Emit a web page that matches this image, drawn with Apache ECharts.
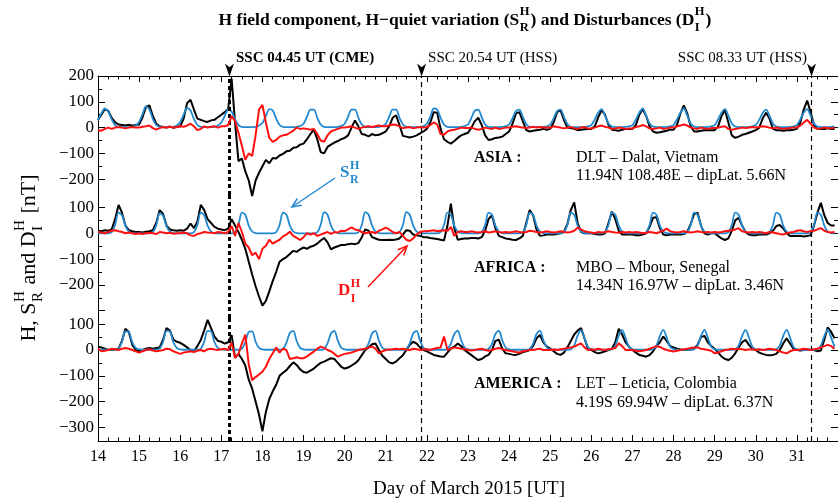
<!DOCTYPE html>
<html><head><meta charset="utf-8">
<script src="https://cdn.jsdelivr.net/npm/echarts@6/dist/echarts.min.js"></script>
<style>html,body{margin:0;padding:0;background:#fff}#c{width:838px;height:501px}</style>
</head><body><div id="c"></div>
<script>
// ---------------- DATA (2-hour samples, 12 per day, starting at day 14.0 UT) ----------------
const dayStart = 14;
const samplesPerDay = 12;

// ASIA (DLT) H component
const asiaH = [
  [30, 50, 72, 65, 38, 20, 12, 10, 8, 11, 7, 10],
  [12, 40, 80, 86, 45, 15, 5, 2, 0, 4, -1, 2],
  [5, 35, 95, 108, 70, 35, 30, 25, 22, 28, 30, 40],
  [50, 60, 72, 190, 20, -130, -120, -170, -205, -265, -205, -175],
  [-150, -125, -138, -118, -120, -108, -102, -92, -90, -78, -76, -66],
  [-62, -45, -25, -8, -45, -95, -100, -75, -66, -58, -52, -45],
  [-40, -30, 0, 28, 5, -25, -28, -34, -25, -30, -28, -22],
  [-15, 5, 38, 48, 10, -32, -35, -38, -35, -30, -22, -15],
  [-5, 20, 60, 58, -5, -45, -55, -62, -52, -40, -30, -25],
  [-20, 0, 25, 38, 10, -30, -48, -45, -40, -38, -35, -25],
  [-15, 15, 55, 60, 25, -10, -15, -12, -10, -8, -5, -8],
  [-5, 20, 60, 68, 30, 0, -2, -5, -10, -8, -6, -5],
  [-5, 5, 40, 68, 50, 10, -8, -10, -12, -8, -5, -5],
  [-5, 10, 50, 72, 45, 5, -15, -20, -18, -15, -12, -8],
  [-8, 10, 55, 86, 55, 5, -15, -15, -12, -10, -10, -10],
  [-10, 5, 45, 68, 20, -30, -40, -35, -28, -25, -20, -15],
  [-10, 0, 35, 58, 35, -5, -10, -10, -12, -10, -10, -8],
  [-5, 20, 70, 105, 60, 10, -5, -5, -5, -3, -5, -5]
];
// ASIA quiet variation Sq
const asiaSq = [
  [28, 55, 74, 62, 32, 10, 3, 2, 2, 2, 3, 8],
  [22, 52, 82, 70, 34, 10, 3, 2, 2, 2, 3, 8],
  [22, 50, 76, 66, 33, 10, 3, 2, 2, 2, 3, 8],
  [20, 45, 70, 62, 32, 10, 3, 2, 2, 2, 3, 8],
  [18, 45, 72, 66, 35, 10, 3, 2, 2, 2, 3, 6],
  [15, 42, 70, 70, 38, 12, 3, 2, 2, 2, 3, 6],
  [15, 42, 70, 70, 38, 12, 3, 2, 2, 2, 3, 6],
  [15, 42, 70, 70, 38, 12, 3, 2, 2, 2, 3, 6],
  [15, 42, 74, 70, 38, 12, 3, 2, 2, 2, 3, 6],
  [12, 38, 66, 70, 40, 12, 3, 2, 2, 2, 3, 6],
  [12, 36, 64, 70, 42, 14, 3, 2, 2, 2, 3, 5],
  [12, 36, 64, 70, 42, 14, 3, 2, 2, 2, 3, 5],
  [10, 32, 58, 72, 46, 16, 4, 2, 2, 2, 3, 5],
  [10, 32, 58, 74, 46, 16, 4, 2, 2, 2, 3, 5],
  [10, 32, 58, 74, 46, 16, 4, 2, 2, 2, 3, 5],
  [10, 32, 58, 72, 46, 16, 4, 2, 2, 2, 3, 5],
  [10, 30, 56, 70, 46, 16, 4, 2, 2, 2, 3, 5],
  [10, 32, 58, 72, 46, 16, 4, 2, 2, 2, 3, 5]
];
// ASIA disturbance D
const asiaD = [
  [-10, -12, -5, 0, -5, 0, 2, 0, -3, 0, 2, 0],
  [0, 3, 5, 8, -2, -8, -2, 2, 0, 3, 0, 2],
  [5, 3, 8, 15, 5, -10, -5, 5, 0, 3, 5, 0],
  [5, 5, 10, 45, 25, -20, -70, -125, -100, -110, -30, 70],
  [88, 20, -40, -55, -48, -35, -30, -28, -20, -12, 0, -5],
  [-3, -5, -8, -5, -25, -50, -55, -30, -15, -10, -5, 0],
  [0, 2, 5, 0, -5, 0, 3, 5, 2, 5, 8, 5],
  [5, 8, 12, 10, 5, -2, 0, 2, -3, 0, 2, 0],
  [2, 10, 20, 12, -25, -28, -15, -10, -8, -5, 0, -2],
  [-2, 0, -5, -8, -5, 0, -3, -5, 0, -5, -3, 0],
  [0, 3, 5, 2, 0, -2, 0, 3, 0, 2, 0, 0],
  [0, 5, 2, 0, -3, 0, 2, -2, -5, 0, 2, -3],
  [-3, 0, 5, 8, 3, 0, -5, -3, 0, -2, -5, -3],
  [-3, 2, 5, 10, 5, -3, -5, -3, 0, -5, -3, 0],
  [0, 5, 8, 12, 8, 0, -3, -5, 0, -3, -5, -2],
  [-2, 0, 3, 5, -5, -8, -5, -3, 0, -2, 0, 2],
  [0, 2, 5, 3, 0, -3, 0, -2, -5, -3, -2, 0],
  [0, 8, 20, 30, 15, 0, -5, -3, 0, -2, -3, 0]
];

// AFRICA (MBO) H component
const africaH = [
  [10, 8, 12, 10, 15, 55, 110, 80, 30, 12, 8, 5],
  [5, 3, 6, 8, 12, 40, 90, 75, 30, 15, 12, 10],
  [12, 10, 18, 38, 20, 45, 110, 90, 55, 40, 25, 18],
  [15, 12, 18, 55, 30, 5, -25, -60, -110, -160, -205, -245],
  [-280, -262, -225, -185, -150, -110, -100, -92, -80, -68, -72, -62],
  [-55, -60, -52, -48, -40, -28, -18, -35, -62, -55, -50, -45],
  [-45, -42, -40, -42, -38, -15, 15, 10, -15, -20, -25, -26],
  [-26, -25, -26, -24, -20, -5, 12, 10, -5, -8, -10, -15],
  [-15, -18, -20, -22, -25, -28, 30, 115, 20, -25, -22, -20],
  [-20, -18, -18, -20, -15, 10, 55, 70, 20, -10, -15, -20],
  [-22, -25, -26, -20, -10, 40, 90, 70, 15, -10, -8, -5],
  [-5, -5, -3, 0, 5, 35, 90, 120, 40, 5, 0, 0],
  [0, -3, -5, -5, 0, 40, 84, 55, 10, -5, -5, -5],
  [-5, -8, -8, -5, 0, 25, 60, 62, 20, -5, -8, -5],
  [-5, -5, -5, -3, 5, 35, 75, 80, 30, 0, -5, 0],
  [0, -10, -20, -26, -20, 10, 50, 60, 30, 5, -5, -8],
  [-8, -5, -5, -5, 0, 10, 28, 32, 20, 0, -10, -10],
  [-10, -10, -12, -10, -8, 30, 80, 118, 70, 40, 30, 30]
];
const africaSq = [
  [0, 0, 0, 0, 4, 32, 80, 70, 30, 7, 1, 0],
  [0, 0, 0, 0, 4, 30, 78, 68, 28, 7, 1, 0],
  [0, 0, 0, 0, 4, 32, 80, 70, 30, 7, 1, 0],
  [0, 0, 0, 0, 4, 32, 80, 72, 30, 7, 1, 0],
  [0, 0, 0, 0, 4, 32, 80, 72, 30, 7, 1, 0],
  [0, 0, 0, 0, 4, 32, 82, 72, 30, 7, 1, 0],
  [0, 0, 0, 0, 4, 32, 82, 72, 30, 7, 1, 0],
  [0, 0, 0, 0, 4, 32, 82, 72, 30, 7, 1, 0],
  [0, 0, 0, 0, 4, 32, 80, 72, 30, 7, 1, 0],
  [0, 0, 0, 0, 4, 32, 80, 72, 30, 7, 1, 0],
  [0, 0, 0, 0, 4, 32, 80, 72, 30, 7, 1, 0],
  [0, 0, 0, 0, 4, 32, 80, 72, 30, 7, 1, 0],
  [0, 0, 0, 0, 4, 32, 80, 72, 30, 7, 1, 0],
  [0, 0, 0, 0, 4, 32, 80, 72, 30, 7, 1, 0],
  [0, 0, 0, 0, 4, 32, 80, 72, 30, 7, 1, 0],
  [0, 0, 0, 0, 4, 32, 80, 72, 30, 7, 1, 0],
  [0, 0, 0, 0, 4, 32, 80, 72, 30, 7, 1, 0],
  [0, 0, 0, 0, 4, 32, 80, 72, 30, 7, 1, 0]
];
const africaD = [
  [5, 3, 0, 5, 10, 12, 8, 5, 0, 3, 0, -3],
  [0, -3, 0, 2, 0, -3, 5, 3, 0, 2, -2, 0],
  [0, 3, 0, -8, -10, -3, 0, 5, 3, 2, 0, 5],
  [3, 0, 5, 28, -10, 40, 5, -40, -55, -85, -75, -100],
  [-60, -48, -25, -40, -32, -25, -12, -5, 6, -10, -18, -26],
  [-15, 0, -5, 0, -10, -5, 0, 5, -2, 5, 3, 10],
  [8, 15, 23, 15, 12, 5, 0, 3, 5, 0, 10, 15],
  [22, 15, 5, 0, 5, -10, -25, -30, -20, -5, 5, 8],
  [8, 10, 12, 8, 10, 12, 10, 25, -10, 5, 8, 5],
  [5, 8, 5, 3, 5, 8, 3, 5, 8, 5, 3, 5],
  [3, 5, 8, 5, 3, 5, 10, 8, 5, 3, 5, 8],
  [5, 3, 5, 8, 5, 3, 5, 10, 22, 15, 8, 5],
  [3, 0, 5, 3, 5, 8, 5, 3, 2, 5, 3, 5],
  [3, 5, 3, 0, 2, 5, 3, 0, 5, 10, 18, 8],
  [5, 3, 5, 8, 5, 3, 5, 8, 5, 3, 5, 3],
  [5, 3, 5, 8, 10, 12, 15, 20, 8, 5, 3, 5],
  [3, 5, 3, 0, 5, 3, 0, -3, -5, 0, 3, 5],
  [10, 12, 8, 5, 8, 10, 15, 20, 10, 5, 3, 5]
];

// AMERICA (LET) H component
const americaH = [
  [13, 10, 5, 0, 0, 2, 5, 35, 82, 70, 20, 0],
  [-5, 0, 5, 8, 5, 8, 10, 40, 85, 75, 40, 32],
  [28, 20, 10, 0, -6, 15, 39, 75, 117, 85, 52, 35],
  [32, 25, 30, 58, -30, -15, -35, -60, -115, -150, -200, -250],
  [-315, -240, -190, -160, -135, -100, -88, -78, -62, -48, -58, -75],
  [-85, -88, -80, -72, -60, -50, -45, -38, -32, -35, -50, -65],
  [-72, -68, -60, -52, -40, -20, 0, 10, 22, 25, 0, -22],
  [-35, -48, -52, -45, -32, -20, 0, 20, 32, 25, 10, 0],
  [-5, -12, -19, -22, -25, -26, -10, 5, 13, 25, 15, 0],
  [-10, -20, -30, -39, -35, -25, -19, 0, 35, 40, 5, -13],
  [-15, -18, -19, -15, -8, -5, 0, 15, 45, 58, 30, 13],
  [5, -5, -15, -19, -10, 10, 35, 60, 75, 85, 45, 5],
  [0, -8, -13, -10, -5, 0, 5, 30, 82, 60, 30, 13],
  [0, -10, -19, -22, -26, -20, -5, 15, 30, 52, 35, 15],
  [10, 5, 2, 0, 0, 2, 5, 20, 50, 55, 30, 15],
  [5, -10, -25, -35, -39, -30, -13, 10, 30, 39, 20, 5],
  [0, -10, -15, -19, -20, -19, -15, 0, 25, 45, 25, 5],
  [0, -2, 0, 2, 0, 0, -5, -2, 40, 88, 70, 45]
];
const americaSq = [
  [2, 1, 1, 1, 1, 1, 5, 32, 72, 70, 30, 8],
  [2, 1, 1, 1, 1, 1, 5, 32, 74, 72, 30, 8],
  [2, 1, 1, 1, 1, 1, 5, 32, 74, 72, 30, 8],
  [2, 1, 1, 1, 1, 1, 5, 30, 70, 72, 32, 8],
  [2, 1, 1, 1, 1, 1, 4, 28, 66, 74, 34, 8],
  [2, 1, 1, 1, 1, 1, 4, 26, 64, 74, 36, 9],
  [2, 1, 1, 1, 1, 1, 4, 26, 64, 74, 36, 9],
  [2, 1, 1, 1, 1, 1, 4, 26, 64, 74, 36, 9],
  [2, 1, 1, 1, 1, 1, 4, 24, 62, 75, 38, 10],
  [2, 1, 1, 1, 1, 1, 4, 24, 62, 75, 38, 10],
  [2, 1, 1, 1, 1, 1, 4, 24, 62, 75, 38, 10],
  [2, 1, 1, 1, 1, 1, 3, 18, 56, 77, 46, 12],
  [3, 1, 1, 1, 1, 1, 3, 18, 56, 77, 46, 12],
  [3, 1, 1, 1, 1, 1, 3, 17, 54, 78, 48, 12],
  [3, 1, 1, 1, 1, 1, 3, 17, 54, 78, 48, 12],
  [3, 1, 1, 1, 1, 1, 3, 17, 54, 78, 48, 12],
  [3, 1, 1, 1, 1, 1, 3, 17, 54, 78, 48, 12],
  [3, 1, 1, 1, 1, 1, 3, 17, 54, 79, 48, 12]
];
const americaD = [
  [5, -5, -3, 0, 5, 3, 0, 5, 8, 5, 0, -5],
  [-10, -5, 0, 3, -2, -5, -3, 0, 5, 3, -5, -10],
  [-15, -10, -8, -5, -8, -3, 0, -5, 3, 5, 2, 0],
  [3, 5, 0, 28, -30, -15, 25, 60, -55, -117, -105, -95],
  [-84, -65, -35, -13, 10, -10, 5, 0, -35, -32, -28, -32],
  [-32, -25, -15, -6, 5, 13, 8, 0, -5, -15, -26, -20],
  [-15, -13, -10, -5, 0, 3, 5, 10, 13, 5, -13, -5],
  [0, 2, 3, 5, 3, 5, 2, 0, 5, 3, 0, 2],
  [3, 0, 5, 8, 10, 52, 0, 5, 10, 8, 5, 3],
  [0, -2, 0, 3, 5, 0, -3, 0, 5, 8, 3, 0],
  [-3, -5, -8, -10, -5, -3, 0, 0, 3, 5, 0, 0],
  [0, 2, 0, 3, 5, 8, 10, 13, 20, 26, 10, 0],
  [3, 0, 5, 2, 0, 3, 5, 8, 26, 15, 0, 0],
  [0, -3, -5, -3, 0, 5, 10, 15, 12, 5, 0, -3],
  [-6, -3, 0, 3, 5, 8, 10, 10, 5, 3, 0, -3],
  [-13, -10, -5, 0, 2, 5, 3, 5, 3, 0, 2, 3],
  [0, 3, 0, 2, 5, 3, 0, -5, -10, -13, -5, 0],
  [0, 2, 5, 3, 0, 3, 5, 10, 15, 20, 15, 5]
];

// SSC events (day of March 2015, UT)
const sscDays = [17.198, 21.871, 31.356];
const sscLabels = ['SSC 04.45 UT (CME)', 'SSC 20.54 UT (HSS)', 'SSC 08.33 UT (HSS)'];

// axis ticks
const xMin = 14, xMax = 32;
const yTickVals = [[200, 100, 0, -100, -200], [100, 0, -100, -200, -300], [100, 0, -100, -200, -300]];
const yLabelVals = [[200, 100, 0, -100, -200], [100, 0, -100, -200], [100, 0, -100, -200, -300]];
const yMinorVals = [[150, 50, -50, -150], [50, -50, -150, -250], [50, -50, -150, -250]];

const stationNames = ['ASIA :', 'AFRICA :', 'AMERICA :'];
const stationLine1 = ['DLT \u2013 Dalat, Vietnam', 'MBO \u2013 Mbour, Senegal', 'LET \u2013 Leticia, Colombia'];
const stationLine2 = ['11.94N 108.48E \u2013 dipLat. 5.66N', '14.34N 16.97W \u2013 dipLat. 3.46N', '4.19S 69.94W \u2013 dipLat. 6.37N'];

// ---------------- LAYOUT ----------------
const FONT = 'Liberation Serif';
const K = 0.258; // px per nT
const panels = [
  { top: 76, bottom: 195, zero: 127.6 },
  { top: 195, bottom: 318, zero: 233.3 },
  { top: 318, bottom: 441, zero: 350 }
];
const BLACK = '#000000', BLUE = '#2289cf', RED = '#ff1010';

function toSeries(rows) {
  const out = [];
  rows.forEach((r, d) => r.forEach((v, h) => out.push([dayStart + d + h / samplesPerDay, v])));
  return out;
}
const fmt = v => (v < 0 ? '\u2212' + Math.abs(v) : String(v));
const r2 = v => Math.round(v * 100) / 100;

const grids = [], xAxes = [], yAxes = [], series = [];
const Hs = [asiaH, africaH, americaH], Sqs = [asiaSq, africaSq, americaSq], Ds = [asiaD, africaD, americaD];

panels.forEach((p, i) => {
  const max = r2((p.zero - p.top) / K) + 0.01, min = r2(-(p.bottom - p.zero) / K);
  grids.push({ left: 98, right: 0, top: p.top, height: p.bottom - p.top, containLabel: false, outerBoundsMode: 'none' });
  const xa = { gridIndex: i, type: 'value', min: xMin, max: xMax, interval: 1, splitLine: { show: false } };
  if (i === 0) {
    Object.assign(xa, { position: 'top', axisLine: { show: true, onZero: false, lineStyle: { color: BLACK, width: 1 } },
      axisTick: { show: true, inside: true, length: 6, lineStyle: { color: BLACK } },
      minorTick: { show: true, splitNumber: 4, length: 3.5, lineStyle: { color: BLACK } },
      axisLabel: { show: false } });
  } else if (i === 2) {
    Object.assign(xa, { position: 'bottom', axisLine: { show: true, onZero: false, lineStyle: { color: BLACK, width: 1 } },
      axisTick: { show: true, inside: true, length: 6, lineStyle: { color: BLACK } },
      minorTick: { show: true, splitNumber: 4, length: 3.5, lineStyle: { color: BLACK } },
      axisLabel: { show: true, color: BLACK, fontFamily: FONT, fontSize: 16, margin: 8, showMaxLabel: false } });
  } else {
    xa.show = false;
  }
  xAxes.push(xa);
  const base = { gridIndex: i, type: 'value', min: min, max: max, offset: 0, splitLine: { show: false } };
  ['left', 'right'].forEach(pos => {
    yAxes.push(Object.assign({}, base, { position: pos,
      axisLine: { show: true, onZero: false, lineStyle: { color: BLACK, width: 1 } },
      axisTick: { show: true, inside: true, length: 7, customValues: yTickVals[i], lineStyle: { color: BLACK } },
      axisLabel: pos === 'left' ? { show: true, customValues: yLabelVals[i], formatter: fmt, color: BLACK, fontFamily: FONT, fontSize: 17, margin: 4 } : { show: false } }));
    yAxes.push(Object.assign({}, base, { position: pos,
      axisLine: { show: false },
      axisTick: { show: true, inside: true, length: 4, customValues: yMinorVals[i], lineStyle: { color: BLACK } },
      axisLabel: { show: false } }));
  });
  const yIdx = i * 4;
  const black = { type: 'line', xAxisIndex: i, yAxisIndex: yIdx, data: toSeries(Hs[i]), symbol: 'none', clip: false,
    lineStyle: { color: BLACK, width: 2 }, z: 3,
    markLine: { silent: true, symbol: ['none', 'none'], label: { show: false }, animation: false,
      data: sscDays.map((d, k) => ({ xAxis: d, lineStyle: k === 0 ? { color: BLACK, width: 3, type: [4, 3] } : { color: BLACK, width: 1.2, type: [5, 4] } })) } };
  if (i === 0) {
    black.markPoint = { silent: true, animation: false,
      data: sscDays.map((d, k) => ({ coord: [d, 200], symbol: 'path://M0,0 L5,4 L10,0 L5,14 Z', symbolSize: [9, 13], symbolOffset: [0, -6],
        itemStyle: { color: BLACK },
        label: { show: true, formatter: sscLabels[k], position: k === 2 ? 'left' : 'right', distance: k === 2 ? 0 : 2, offset: [0, -12],
          color: BLACK, fontFamily: FONT, fontSize: 15, fontWeight: k === 0 ? 'bold' : 'normal' } })) };
  }
  series.push(black);
  series.push({ type: 'line', xAxisIndex: i, yAxisIndex: yIdx, data: toSeries(Sqs[i]), symbol: 'none', clip: false, smooth: 0.3,
    lineStyle: { color: BLUE, width: 1.8 }, z: 4 });
  series.push({ type: 'line', xAxisIndex: i, yAxisIndex: yIdx, data: toSeries(Ds[i]), symbol: 'none', clip: false,
    lineStyle: { color: RED, width: 2 }, z: 5 });
});

// ---------------- TEXT HELPERS ----------------
const mctx = document.createElement('canvas').getContext('2d');
function tw(t, size, weight) { mctx.font = (weight || 'normal') + ' ' + size + 'px "' + FONT + '"'; return mctx.measureText(t).width; }
function txt(s, x, y, size, o) {
  return { type: 'text', x: x, y: y, style: { text: s, fill: o.color, fontSize: size, fontFamily: FONT, fontWeight: o.weight,
    textAlign: 'left', textVerticalAlign: 'middle', verticalAlign: 'middle' } };
}
function scriptGroup(pieces, o) {
  let x = 0; const ch = [];
  pieces.forEach(p => {
    if (typeof p === 'string') { ch.push(txt(p, x, 0, o.size, o)); x += tw(p, o.size, o.weight); }
    else {
      const w = Math.max(tw(p.sup, o.ssize, o.weight), tw(p.sub, o.ssize, o.weight));
      ch.push(txt(p.sup, x + 0.5, -o.d, o.ssize, o));
      ch.push(txt(p.sub, x + 0.5, o.d, o.ssize, o));
      x += w + 1.5;
    }
  });
  const shift = o.center ? -x / 2 : 0;
  ch.forEach(c => { c.x += shift; });
  return { type: 'group', x: o.x, y: o.y, rotation: o.rotation || 0, children: ch };
}
function arrow(x1, y1, x2, y2, color) {
  const ang = Math.atan2(y1 - y2, x1 - x2), L = 10, a = 0.42;
  const b1 = [x2 + L * Math.cos(ang + a), y2 + L * Math.sin(ang + a)];
  const b2 = [x2 + L * Math.cos(ang - a), y2 + L * Math.sin(ang - a)];
  return [
    { type: 'line', shape: { x1: x1, y1: y1, x2: x2, y2: y2 }, style: { stroke: color, lineWidth: 1.5 } },
    { type: 'polyline', shape: { points: [b1, [x2, y2], b2] }, style: { stroke: color, lineWidth: 1.5, fill: null } }
  ];
}

const graphic = [];
graphic.push(scriptGroup(['H field component, H\u2212quiet variation (S', { sup: 'H', sub: 'R' }, ') and Disturbances (D', { sup: 'H', sub: 'I' }, ')'],
  { x: 465, y: 20, size: 17.5, ssize: 12.5, weight: 'bold', color: BLACK, d: 8, center: true }));
graphic.push(scriptGroup(['H, S', { sup: 'H', sub: 'R' }, ' and D', { sup: 'H', sub: 'I' }, ' [nT]'],
  { x: 29, y: 258, size: 22, ssize: 15, weight: 'normal', color: BLACK, d: 9, center: true, rotation: Math.PI / 2 }));
graphic.push({ type: 'text', x: 469, y: 489, style: { text: 'Day of March 2015 [UT]', fill: BLACK, fontSize: 19, fontFamily: FONT,
  textAlign: 'center', textVerticalAlign: 'middle', verticalAlign: 'middle' } });
const stY = [157.5, 267.5, 384];
stationNames.forEach((n, i) => {
  graphic.push(txt(n, 474, stY[i], 16, { color: BLACK, weight: 'bold' }));
  graphic.push(txt(stationLine1[i], 576, stY[i], 16, { color: BLACK, weight: 'normal' }));
  graphic.push(txt(stationLine2[i], 576, stY[i] + 18.5, 16, { color: BLACK, weight: 'normal' }));
});
graphic.push(scriptGroup(['S', { sup: 'H', sub: 'R' }], { x: 340, y: 173, size: 17, ssize: 12, weight: 'bold', color: BLUE, d: 7 }));
graphic.push(scriptGroup(['D', { sup: 'H', sub: 'I' }], { x: 338, y: 291, size: 17, ssize: 12, weight: 'bold', color: RED, d: 7.5 }));
arrow(335, 178, 292, 207, BLUE).forEach(e => graphic.push(e));
arrow(368, 287, 407, 246, RED).forEach(e => graphic.push(e));

const chart = echarts.init(document.getElementById('c'), null, { renderer: 'canvas' });
chart.setOption({
  animation: false,
  backgroundColor: '#ffffff',
  grid: grids, xAxis: xAxes, yAxis: yAxes, series: series, graphic: graphic
});
</script>
</body></html>
